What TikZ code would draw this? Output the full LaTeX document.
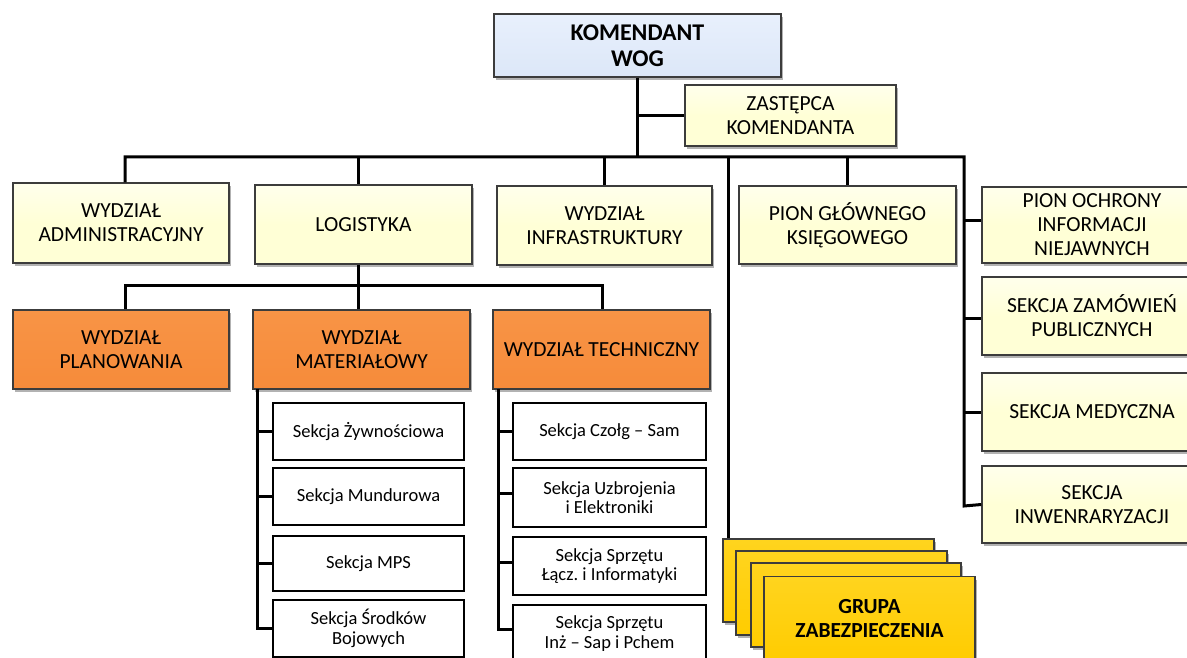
\documentclass[tikz,border=0pt]{standalone}
\usepackage{fontspec}
\setmainfont{Carlito}
\usetikzlibrary{shadows}
\frenchspacing

\definecolor{cream}{RGB}{255,255,214}
\definecolor{creamtop}{RGB}{255,255,236}
\definecolor{paleblue}{RGB}{220,231,248}
\definecolor{paletop}{RGB}{232,240,252}
\definecolor{orangebox}{RGB}{246,139,58}
\definecolor{orangetop}{RGB}{248,148,70}
\definecolor{gold}{RGB}{255,204,0}
\definecolor{goldtop}{RGB}{255,212,30}
\definecolor{edge}{RGB}{60,60,60}

\tikzset{
  unit/.style={draw=edge, line width=1.4pt, inner sep=0pt, align=center,
    font=\fontsize{21.5}{24}\selectfont,
    drop shadow={shadow xshift=2pt, shadow yshift=-3pt, fill=black, opacity=0.3}},
  creambox/.style={unit, top color=creamtop, bottom color=cream, middle color=cream},
  headbox/.style={unit, top color=paletop, bottom color=paleblue,
    font=\fontsize{24}{26}\bfseries\selectfont},
  orangeunit/.style={unit, top color=orangetop, bottom color=orangebox},
  goldunit/.style={unit, top color=goldtop, bottom color=gold,
    font=\fontsize{21.5}{24}\bfseries\selectfont},
  sectbox/.style={draw=black, line width=2.6pt, fill=white, inner sep=0pt,
    align=center, font=\fontsize{18.5}{19.5}\selectfont},
  link/.style={draw=black, line width=3pt},
}

\begin{document}
\begin{tikzpicture}[x=1pt, y=1pt]
\path[use as bounding box] (0,0) rectangle (1187,-658);
\clip (0,0) rectangle (1187,-658);

% bus anchor points
\coordinate (b1) at (125,-157);
\coordinate (b2) at (358,-157);
\coordinate (b4) at (728,-157);
\coordinate (b6) at (964,-157);
\coordinate (l1) at (125,-285);
\coordinate (l3) at (602,-285);
\coordinate (mx) at (257,-389);
\coordinate (tx) at (498,-389);

% command level
\node[headbox, minimum width=287, minimum height=63] (kom) at (637.5,-45.5) {KOMENDANT\\WOG};
\node[creambox, minimum width=211, minimum height=61] (zast) at (790.5,-115.5) {ZASTĘPCA\\KOMENDANTA};

% first row of units
\node[creambox, minimum width=216, minimum height=80] (adm) at (121,-223) {WYDZIAŁ\\ADMINISTRACYJNY};
\node[creambox, minimum width=217, minimum height=79] (log) at (363.5,-224.5) {LOGISTYKA};
\node[creambox, minimum width=215, minimum height=79] (infra) at (604.5,-225.5) {WYDZIAŁ\\INFRASTRUKTURY};
\node[creambox, minimum width=217, minimum height=78] (pgk) at (847.5,-225) {PION GŁÓWNEGO\\KSIĘGOWEGO};

% right column
\node[creambox, minimum width=220, minimum height=76] (poch) at (1092,-225) {PION OCHRONY\\INFORMACJI\\NIEJAWNYCH};
\node[creambox, minimum width=220, minimum height=78] (zam) at (1092,-316) {SEKCJA ZAMÓWIEŃ\\PUBLICZNYCH};
\node[creambox, minimum width=220, minimum height=78] (med) at (1092,-412) {SEKCJA MEDYCZNA};
\node[creambox, minimum width=220, minimum height=77] (inw) at (1092,-504.5) {SEKCJA\\INWENRARYZACJI};

% logistics divisions
\node[orangeunit, minimum width=216, minimum height=79] (plan) at (121,-349.5) {WYDZIAŁ\\PLANOWANIA};
\node[orangeunit, minimum width=217, minimum height=79] (mat) at (361.5,-349.5) {WYDZIAŁ\\MATERIAŁOWY};
\node[orangeunit, minimum width=217, minimum height=79] (tech) at (601.5,-349.5) {WYDZIAŁ TECHNICZNY};

% sections of the material division
\node[sectbox, minimum width=191, minimum height=57] (s1) at (368.5,-431.5) {Sekcja Żywnościowa};
\node[sectbox, minimum width=191, minimum height=57] (s2) at (368.5,-496.5) {Sekcja Mundurowa};
\node[sectbox, minimum width=191, minimum height=55] (s3) at (368.5,-563.5) {Sekcja MPS};
\node[sectbox, minimum width=191, minimum height=57] (s4) at (368.5,-628.5) {Sekcja Środków\\Bojowych};

% sections of the technical division
\node[sectbox, minimum width=193, minimum height=57] (t1) at (609.5,-431.5) {Sekcja Czołg – Sam};
\node[sectbox, minimum width=193, minimum height=59] (t2) at (609.5,-497.5) {Sekcja Uzbrojenia\\i Elektroniki};
\node[sectbox, minimum width=193, minimum height=58] (t3) at (609.5,-566) {Sekcja Sprzętu\\Łącz. i Informatyki};
\node[sectbox, minimum width=193, minimum height=57] (t4) at (609.5,-633.5) {Sekcja Sprzętu\\Inż – Sap i Pchem};

% stacked security groups
\node[goldunit, minimum width=211, minimum height=83] (g1) at (828.5,-580.5) {};
\node[goldunit, minimum width=211, minimum height=84] (g2) at (841.5,-593) {};
\node[goldunit, minimum width=210, minimum height=84] (g3) at (856,-605) {};
\node[goldunit, minimum width=211, minimum height=85] (g4) at (869.5,-619) {GRUPA\\ZABEZPIECZENIA};

% command connectors
\draw[link] (kom.south) -- (kom.south |- b1);
\draw[link] (kom.south |- zast.west) -- (zast.west);
\draw[link] (b1 |- adm.north) -- (b1) -- (b6) -- ([yshift=-1.5pt]b6 |- inw.west) -- (inw.west);
\draw[link] (b2) -- (b2 |- log.north);
\draw[link] (infra.north |- b1) -- (infra.north);
\draw[link] (pgk.north |- b1) -- (pgk.north);
\draw[link] (b4) -- (b4 |- g1.north);

% right column connectors
\draw[link] ([yshift=4pt]b6 |- poch.west) -- ([yshift=4pt]poch.west);
\draw[link] ([yshift=-2pt]b6 |- zam.west) -- ([yshift=-2pt]zam.west);
\draw[link] (b6 |- med.west) -- (med.west);

% logistics connectors
\draw[link] (b2 |- log.south) -- (b2 |- mat.north);
\draw[link] (l1 |- plan.north) -- (l1) -- (l3) -- (l3 |- tech.north);

% material sections
\draw[link] (mx) -- (mx |- s4.west) -- (s4.west);
\draw[link] (mx |- s1.west) -- (s1.west);
\draw[link] (mx |- s2.west) -- (s2.west);
\draw[link] (mx |- s3.west) -- (s3.west);

% technical sections
\draw[link] (tx) -- ([yshift=4pt]tx |- t4.west) -- ([yshift=4pt]t4.west);
\draw[link] (tx |- t1.west) -- (t1.west);
\draw[link] ([yshift=4pt]tx |- t2.west) -- ([yshift=4pt]t2.west);
\draw[link] ([yshift=4pt]tx |- t3.west) -- ([yshift=4pt]t3.west);
\end{tikzpicture}
\end{document}
